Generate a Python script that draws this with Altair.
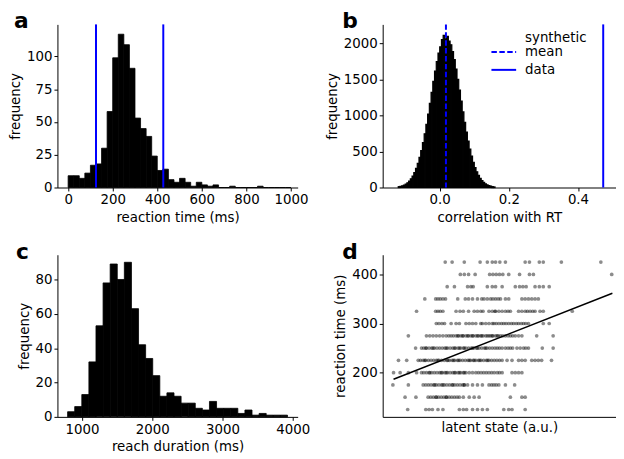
import altair as alt
import pandas as pd

# ---------------- data ----------------
# (a) reaction time histogram: 25 ms bins starting at 0 ms
rt_bin_start = 0
rt_bin_width = 25
rt_counts = [9, 9, 7, 11, 17, 18, 30, 58, 99, 117, 109, 91, 53, 45, 39, 24, 13, 14, 6, 4,
             7, 4, 1, 4, 2, 1, 2, 0, 0, 1, 0, 0, 0, 0, 1, 0, 0, 0, 0, 0]
rt_lines = [125, 427]

# (b) correlation histogram: bins of 0.005 starting at -0.12
corr_bin_start = -0.12
corr_bin_width = 0.005
corr_counts = [12, 17, 24, 34, 48, 66, 90, 120, 158, 206, 265, 334, 417, 513, 622, 744, 877,
               1019, 1168, 1319, 1470, 1613, 1747, 1864, 1950, 2050, 2110, 2060, 2095, 2030,
               1979, 1885, 1772, 1642, 1499, 1350, 1198, 1048, 905, 769, 645, 534, 435, 350,
               277, 217, 167, 127, 95, 70, 51, 37, 26, 18, 12, 8]
synthetic_mean = 0.018
data_corr = 0.473

# (c) reach duration histogram
dur_bin_start = 794
dur_bin_width = 101
dur_counts = [3, 6, 13, 32, 53, 78, 89, 80, 90, 63, 42, 34, 24, 12, 14, 12, 8, 8, 5, 4, 9, 5,
              5, 5, 2, 4, 1, 2, 1, 1, 1]

# (d) latent state vs reaction time (rows by RT value)
rows_rt = [425, 400, 375, 350, 325, 300, 275, 250, 225, 200, 175, 150, 125]
r425 = [4.17, 4.38, 4.75, 5.23, 5.45, 5.60, 5.70, 5.83, 6.00, 6.60, 6.73, 7.03, 7.15, 7.70, 8.90]
r400 = [4.63, 4.75, 4.88, 5.08, 5.52, 5.62, 5.72, 5.82, 5.92, 6.10, 6.43, 6.73, 6.85, 9.23]
r375 = [4.23, 4.45, 4.85, 4.95, 5.02, 5.45, 5.60, 5.70, 5.90, 6.30, 6.43, 6.53, 6.63, 6.90, 7.03,
        7.15, 7.33]
r350 = [3.55, 3.88, 3.95, 4.02, 4.10, 4.18, 4.55, 4.78, 4.88, 5.00, 5.15, 5.28, 5.35, 5.45, 5.55,
        5.62, 5.70, 5.78, 5.85, 6.00, 6.10, 6.50, 6.60, 6.70, 6.80, 6.90, 7.00]
r325 = [3.30, 3.88, 3.95, 4.02, 4.10, 4.50, 4.62, 4.72, 4.88, 5.05, 5.15, 5.25, 5.32, 5.50, 5.60,
        5.68, 5.70, 5.80, 5.90, 6.00, 6.08, 6.15, 6.40, 6.50, 6.60, 6.67, 6.75, 6.83, 6.90, 7.05,
        7.15, 8.03]
r300 = [3.90, 3.98, 4.07, 4.15, 4.35, 4.50, 4.60, 4.80, 4.90, 5.00, 5.10, 5.25, 5.30, 5.40, 5.50,
        5.60, 5.65, 5.72, 5.80, 5.88, 5.95, 6.02, 6.10, 6.18, 6.25, 6.33, 6.40, 6.48, 6.55, 6.62,
        6.70, 7.15, 7.33]
r275 = [3.05, 3.60, 3.70, 3.80, 3.90, 4.00, 4.10, 4.20, 4.28, 4.35, 4.42, 4.50, 4.58, 4.65, 4.72,
        4.80, 4.88, 4.95, 5.02, 5.10, 5.18, 5.25, 5.32, 5.40, 5.50, 5.55, 5.62, 5.70, 5.78, 5.85,
        5.92, 6.00, 6.08, 6.15, 6.22, 6.30, 6.40, 6.50, 6.95, 7.45,
        4.55, 4.70, 4.85, 5.00, 5.15, 5.28, 5.45, 5.60, 5.75]
r250 = [3.27, 3.45, 3.52, 3.60, 3.68, 3.76, 3.84, 3.92, 4.00, 4.08, 4.16, 4.24, 4.32, 4.40, 4.48,
        4.56, 4.64, 4.72, 4.80, 4.88, 4.96, 5.04, 5.12, 5.20, 5.28, 5.36, 5.44, 5.52, 5.60, 5.68,
        5.75, 5.82, 5.90, 6.00, 6.08, 6.15, 6.22, 6.35, 6.45, 6.55, 6.62, 6.70, 7.12, 7.45,
        3.58, 3.80, 4.20, 4.45, 4.60, 4.75, 5.00, 5.15, 5.40]
r225 = [2.75, 3.00, 3.35, 3.42, 3.50, 3.58, 3.66, 3.74, 3.82, 3.90, 3.98, 4.06, 4.14, 4.22, 4.30,
        4.38, 4.46, 4.54, 4.62, 4.70, 4.78, 4.86, 4.94, 5.02, 5.10, 5.18, 5.26, 5.34, 5.42, 5.50,
        5.58, 5.66, 5.74, 5.82, 5.90, 6.05, 6.20, 6.40, 6.50, 6.60, 6.80, 6.90, 7.00, 7.10, 7.40,
        3.55, 3.95, 4.25, 4.42, 4.58, 4.90, 5.05, 5.22, 5.46]
r200 = [2.60, 2.80, 3.05, 3.30, 3.45, 3.52, 3.60, 3.68, 3.76, 3.84, 3.92, 4.00, 4.08, 4.16, 4.24,
        4.32, 4.40, 4.48, 4.56, 4.64, 4.72, 4.80, 4.90, 5.00, 5.10, 5.18, 5.26, 5.34, 5.42, 5.50,
        5.58, 5.66, 5.75, 5.82, 5.90, 6.20, 6.30, 6.40, 6.50,
        3.70, 4.05, 4.20, 4.45, 4.60, 4.75]
r175 = [2.58, 3.05, 3.50, 3.58, 3.66, 3.74, 3.82, 3.90, 3.98, 4.06, 4.14, 4.22, 4.30, 4.38, 4.46,
        4.54, 4.62, 4.70, 4.75, 4.85, 5.00, 5.15, 5.30, 5.50, 5.58, 5.65, 5.72, 5.80, 6.00, 6.28,
        3.85, 4.10, 4.40, 4.75]
r150 = [2.95, 3.28, 3.65, 3.73, 3.81, 3.89, 3.97, 4.05, 4.13, 4.21, 4.29, 4.37, 4.45, 4.53, 4.60,
        4.72, 4.90, 5.05, 5.20, 6.15, 6.50, 6.60, 3.90, 4.20]
r125 = [3.03, 3.58, 3.68, 3.78, 3.95, 4.10, 4.60, 4.72, 4.82, 5.00, 5.15, 5.30, 5.45, 5.95, 6.10,
        6.20, 6.60]
rows_latent = [r425, r400, r375, r350, r325, r300, r275, r250, r225, r200, r175, r150, r125]
fit_latent = [2.60, 9.25]
fit_rt = [186.5, 361.6]

# ---------------- tables ----------------
def hist_df(start, width, counts):
    return pd.DataFrame({
        "lo": [start + i * width for i in range(len(counts))],
        "hi": [start + (i + 1) * width for i in range(len(counts))],
        "n": counts,
    })

df_a = hist_df(rt_bin_start, rt_bin_width, rt_counts)
df_b = hist_df(corr_bin_start, corr_bin_width, corr_counts)
df_c = hist_df(dur_bin_start, dur_bin_width, dur_counts)
df_d = pd.DataFrame({
    "latent": [v for row in rows_latent for v in row],
    "rt": [y for y, row in zip(rows_rt, rows_latent) for _ in row],
})
df_fit = pd.DataFrame({"latent": fit_latent, "rt": fit_rt})

BLUE = "#0000ff"
FONT = "DejaVu Sans"
FS = 13.5


def letter(t, dx):
    return alt.Chart(pd.DataFrame({"t": [t]})).mark_text(
        align="left", baseline="alphabetic", fontSize=22, fontWeight="bold", font=FONT,
        color="black"
    ).encode(text="t:N", x=alt.value(dx), y=alt.value(4))


def hist(df, xdom, ydom, xvals, yvals, xtitle, xfmt="d", sw=0.8):
    return alt.Chart(df).mark_rect(color="black", stroke="black", strokeWidth=sw).encode(
        x=alt.X("lo:Q", scale=alt.Scale(domain=xdom, nice=False, zero=False),
                axis=alt.Axis(values=xvals, title=xtitle, format=xfmt)),
        x2="hi:Q",
        y=alt.Y("n:Q", scale=alt.Scale(domain=ydom, nice=False),
                axis=alt.Axis(values=yvals, title="frequency", format="d")),
        y2=alt.datum(0),
    )


# panel a
pa_hist = hist(df_a, [-48, 1030], [0, 124.5], [0, 200, 400, 600, 800, 1000],
               [0, 25, 50, 75, 100], "reaction time (ms)")
pa_lines = alt.Chart(pd.DataFrame({"v": rt_lines})).mark_rule(color=BLUE, strokeWidth=2).encode(
    x="v:Q")
panel_a = alt.layer(pa_hist, pa_lines, letter("a", -44)).properties(width=243, height=165)

# panel b
pb_hist = hist(df_b, [-0.165, 0.51], [0, 2261], [0.0, 0.2, 0.4],
               [0, 500, 1000, 1500, 2000], "correlation with RT", ".1f", sw=1.2)
pb_mean = alt.Chart(pd.DataFrame({"v": [synthetic_mean]})).mark_rule(
    color=BLUE, strokeWidth=2, strokeDash=[5.5, 2.5]).encode(x="v:Q")
pb_data = alt.Chart(pd.DataFrame({"v": [data_corr]})).mark_rule(
    color=BLUE, strokeWidth=2).encode(x="v:Q")
leg_df = pd.DataFrame({"k": [0]})
leg_dash = alt.Chart(leg_df).mark_rule(color=BLUE, strokeWidth=2, strokeDash=[5.5, 2.5]).encode(
    x=alt.value(110), x2=alt.value(135), y=alt.value(28))
leg_solid = alt.Chart(leg_df).mark_rule(color=BLUE, strokeWidth=2).encode(
    x=alt.value(110), x2=alt.value(135), y=alt.value(46))
leg_text = alt.Chart(pd.DataFrame({"t": ["synthetic", "mean", "data"], "yy": [14, 28, 46]})).mark_text(
    align="left", baseline="middle", fontSize=FS, font=FONT, color="black"
).encode(text="t:N", x=alt.value(144), y=alt.Y("yy:Q", scale=None))
panel_b = alt.layer(pb_hist, pb_mean, pb_data, leg_dash, leg_solid, leg_text,
                    letter("b", -41)).properties(width=236, height=165)

# panel c
pc_hist = hist(df_c, [649, 4070], [0, 94.4], [1000, 2000, 3000, 4000],
               [0, 20, 40, 60, 80], "reach duration (ms)")
panel_c = alt.layer(pc_hist, letter("c", -42)).properties(width=243, height=164)

# panel d
pd_pts = alt.Chart(df_d).mark_circle(color="black", opacity=0.45, size=14).encode(
    x=alt.X("latent:Q", scale=alt.Scale(domain=[2.27, 9.36], nice=False, zero=False),
            axis=alt.Axis(title="latent state (a.u.)", labels=False, ticks=False)),
    y=alt.Y("rt:Q", scale=alt.Scale(domain=[110, 440], nice=False, zero=False),
            axis=alt.Axis(values=[200, 300, 400], title="reaction time (ms)", format="d")),
)
pd_fit = alt.Chart(df_fit).mark_line(color="black", strokeWidth=1.5).encode(
    x="latent:Q", y="rt:Q")
panel_d = alt.layer(pd_pts, pd_fit, letter("d", -41)).properties(width=236, height=164)

chart = alt.concat(
    panel_a, panel_b, panel_c, panel_d,
    columns=2, spacing={"row": 68, "column": 86}, bounds="flush",
).properties(
    padding={"left": 0, "top": 0, "right": 0, "bottom": 0}
).configure_view(stroke=None).configure_axis(
    domainColor="black", tickColor="black", labelColor="black", titleColor="black",
    labelFont=FONT, titleFont=FONT, labelFontSize=FS, titleFontSize=FS,
    titleFontWeight="normal", grid=False, tickSize=3.5, labelPadding=2,
    titlePadding=4, labelFlush=False, labelOverlap=False, domainWidth=1, tickWidth=1,
)

chart.save("out.html", embed_options={"renderer": "svg", "actions": False})
